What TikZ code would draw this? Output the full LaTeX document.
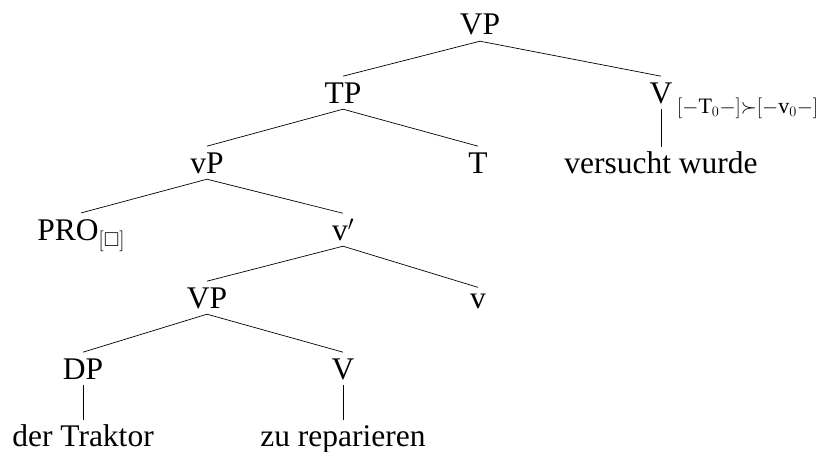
\documentclass[tikz,border=0pt]{standalone}
\usepackage{amssymb}
\usepackage{fontspec}
\setmainfont{Liberation Serif}
\begin{document}
\begin{tikzpicture}[x=1pt,y=-1pt,
  cat/.style={anchor=base,font=\fontsize{31.5}{37}\selectfont,inner xsep=2pt,inner ysep=6pt,text depth=0pt},
  leaf/.style={cat,text height=20pt},
  edge/.style={line width=0.7pt},
  sublab/.style={anchor=base west,inner sep=0pt,font=\fontsize{22}{26}\selectfont}]
\useasboundingbox (0,0) rectangle (840,452);
% nodes
\node[cat] (vp) at (480,35) {VP};
\node[cat] (tp) at (343,103) {TP};
\node[cat] (vtop) at (661,103) {V};
\node[sublab] (vlab) at (677,113) {${[}{-}\mathrm{T}_0{-}{]}{\succ}{[}{-}\mathrm{v}_0{-}{]}$};
\node[cat] (vsmallp) at (207,173) {vP};
\node[cat] (t) at (478,173) {T};
\node[leaf] (vw) at (661,173) {versucht wurde};
\node[cat] (pro) at (81,240) {PRO\raisebox{-6pt}{\fontsize{20}{24}\selectfont$[\Box]$}};
\node[cat] (vbar) at (343,240) {v$'$};
\node[cat] (vp2) at (207,308) {VP};
\node[cat] (v) at (478,308) {v};
\node[cat] (dp) at (83,379) {DP};
\node[cat] (vlow) at (343,379) {V};
\node[leaf] (dt) at (83,446) {der Traktor};
\node[leaf] (zr) at (343,446) {zu reparieren};
% edges
\draw[edge] (vp.south) -- (tp.north);
\draw[edge] (vp.south) -- (vtop.north);
\draw[edge] (tp.south) -- (vsmallp.north);
\draw[edge] (tp.south) -- (t.north);
\draw[edge] (vtop.south) -- (vw.north);
\draw[edge] (vsmallp.south) -- (pro.north);
\draw[edge] (vsmallp.south) -- (vbar.north);
\draw[edge] (vbar.south) -- (vp2.north);
\draw[edge] (vbar.south) -- (v.north);
\draw[edge] (vp2.south) -- (dp.north);
\draw[edge] (vp2.south) -- (vlow.north);
\draw[edge] (dp.south) -- (dt.north);
\draw[edge] (vlow.south) -- (zr.north);
\end{tikzpicture}
\end{document}
